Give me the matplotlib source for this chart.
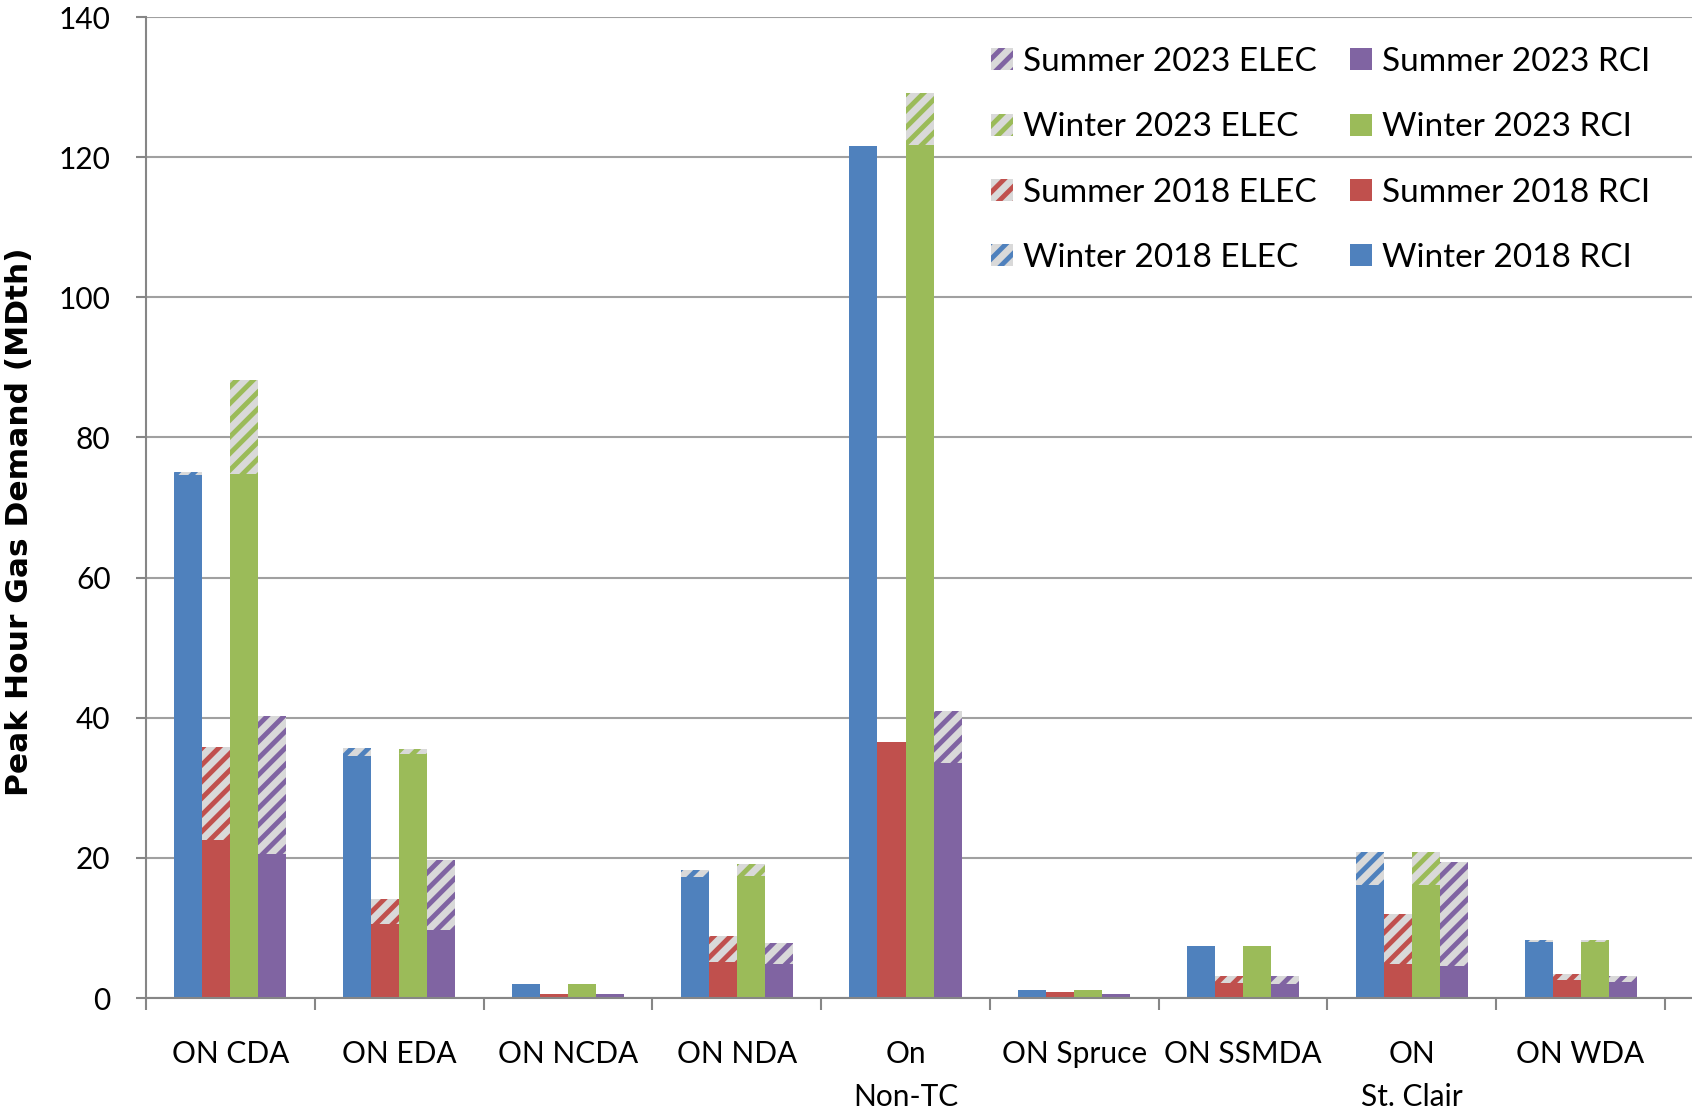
import numpy as np
import matplotlib
matplotlib.use('Agg')
from matplotlib import pyplot as plt
from matplotlib.patches import Patch

categories = ['ON CDA', 'ON EDA', 'ON NCDA', 'ON NDA', 'On\nNon-TC',
              'ON Spruce', 'ON SSMDA', 'ON\nSt. Clair', 'ON WDA']

# RCI (solid) and ELEC (hatched, stacked on top) per season
winter_2018_rci = [74.7, 34.6, 2.0, 17.2, 121.6, 1.2, 7.4, 16.2, 8.0]
winter_2018_elec = [0.3, 1.1, 0.0, 1.0, 0.0, 0.0, 0.0, 4.7, 0.3]
summer_2018_rci = [22.5, 10.5, 0.6, 5.2, 36.6, 0.8, 2.2, 4.9, 2.6]
summer_2018_elec = [13.3, 3.7, 0.0, 3.7, 0.0, 0.0, 1.0, 7.1, 0.8]
winter_2023_rci = [74.8, 34.8, 2.0, 17.4, 121.7, 1.2, 7.4, 16.2, 8.0]
winter_2023_elec = [13.4, 0.7, 0.0, 1.7, 7.5, 0.0, 0.0, 4.7, 0.3]
summer_2023_rci = [20.6, 9.7, 0.6, 4.8, 33.5, 0.6, 2.0, 4.5, 2.3]
summer_2023_elec = [19.6, 10.0, 0.0, 3.0, 7.4, 0.0, 1.1, 14.9, 0.8]

seasons = ['Winter 2018', 'Summer 2018', 'Winter 2023', 'Summer 2023']
colors = ['#4f81bd', '#c0504d', '#9bbb59', '#8064a2']
rci = [winter_2018_rci, summer_2018_rci, winter_2023_rci, summer_2023_rci]
elec = [winter_2018_elec, summer_2018_elec, winter_2023_elec, summer_2023_elec]

plt.rcParams['font.family'] = ['Lato', 'DejaVu Sans']
plt.rcParams['hatch.linewidth'] = 3.5

fig = plt.figure(figsize=(16.92, 11.12), dpi=100)
ax = fig.add_axes([0.0863, 0.1025, 0.9137, 0.8822])

x = np.arange(len(categories)) + 0.5
bw = 0.166
for i in range(4):
    pos = x + (i - 1.5) * bw
    ax.bar(pos, rci[i], bw, color=colors[i], linewidth=0, zorder=3)
    ax.bar(pos, elec[i], bw, bottom=rci[i], facecolor='#d9d9d9',
           edgecolor=colors[i], hatch='//', linewidth=0, zorder=3)

ax.set_xlim(0, 9.16)
ax.set_ylim(0, 140)
ax.set_yticks(np.arange(0, 141, 20))
ax.set_xticks(np.arange(0, 10), minor=True)
ax.set_xticks(x)
ax.set_xticklabels(categories, fontsize=21.5, linespacing=1.65)
ax.tick_params(axis='x', which='major', length=0, pad=30)
ax.tick_params(axis='x', which='minor', length=8.5, width=1.5, color='#868686', direction='out')
ax.tick_params(axis='y', length=7.5, width=1.5, color='#868686', pad=18, labelsize=21.5)

ax.grid(axis='y', color='#a0a0a0', linewidth=1.5, zorder=0)
ax.set_axisbelow(True)
for s in ['top', 'right']:
    ax.spines[s].set_visible(False)
for s in ['left', 'bottom']:
    ax.spines[s].set_color('#868686')
    ax.spines[s].set_linewidth(1.5)
    ax.spines[s].set_zorder(4)

ax.set_ylabel('Peak Hour Gas Demand (MDth)', fontsize=22.5, fontweight='bold',
              family=['Liberation Sans Narrow', 'DejaVu Sans'])
ax.yaxis.set_label_coords(-0.0725, 0.486)

# legend: ELEC in left column, RCI in right column, newest first
order = [3, 2, 1, 0]
handles = []
for i in order:
    handles.append(Patch(facecolor='#d9d9d9', edgecolor=colors[i], hatch='//', linewidth=0,
                         label=seasons[i] + ' ELEC'))
for i in order:
    handles.append(Patch(facecolor=colors[i], linewidth=0, label=seasons[i] + ' RCI'))
ax.legend(handles=handles, ncol=2, loc='upper right',
          bbox_to_anchor=(1650 / 1692, 1 - 47 / 1112), bbox_transform=fig.transFigure,
          frameon=False, fontsize=24, handlelength=0.65, handleheight=0.65,
          handletextpad=0.3, columnspacing=1.0, labelspacing=1.06,
          borderpad=0, borderaxespad=0)

fig.savefig('out.png', dpi=100)
